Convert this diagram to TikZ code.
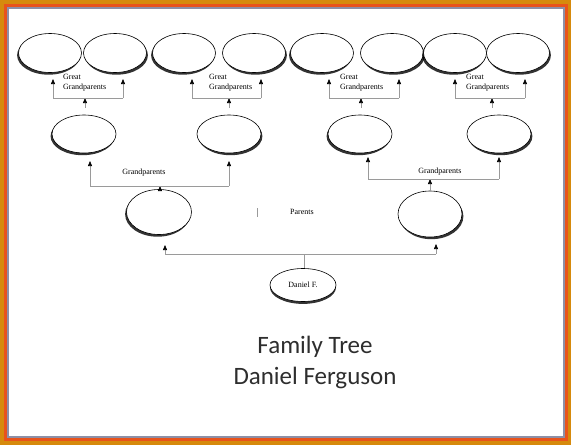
\documentclass[tikz,border=0pt]{standalone}
\usepackage{fontspec}
\setmainfont{Liberation Serif}
\newfontfamily\titlefont{Carlito}
\usepackage{xcolor}
\usetikzlibrary{arrows.meta,shapes.geometric,shadows}
\definecolor{treeGold}{HTML}{D68A0C}
\definecolor{treeRed}{HTML}{E8531C}
\definecolor{treeSlate}{HTML}{8D8FA6}
\definecolor{treeLine}{HTML}{9A9A9A}
\definecolor{treeText}{HTML}{2E2E2E}
\tikzset{
  link/.style={draw=treeLine, line width=0.6pt},
  up link/.style={link, -{Triangle[length=5pt,width=4pt,black]}},
  person/.style={ellipse, draw=black, line width=0.6pt, fill=white,
    minimum width=63pt, minimum height=39pt, inner sep=0pt},
  shade left/.style={drop shadow={shadow xshift=-1.4pt, shadow yshift=-2.2pt,
    fill=black, opacity=0.8}},
  shade right/.style={drop shadow={shadow xshift=1.4pt, shadow yshift=-2.2pt,
    fill=black, opacity=0.8}},
  shade down/.style={drop shadow={shadow xshift=0pt, shadow yshift=-2.4pt,
    fill=black, opacity=0.8}},
  tiny label/.style={font=\fontsize{8}{9.5}\selectfont, inner sep=0pt},
  title text/.style={font=\titlefont\fontsize{25}{29}\selectfont, text=treeText}
}
\begin{document}
\begin{tikzpicture}[x=1pt, y=-1pt]
  % frame
  \fill[treeGold] (0,0) rectangle (571,445);
  \fill[treeRed] (4,4) rectangle (568,441);
  \fill[treeSlate] (7,7) rectangle (565,438);
  \fill[white] (8.5,8.5) rectangle (563,436);

  % great grandparents
  \node[person, shade left] (gg1) at (50,53) {};
  \node[person, shade right] (gg2) at (115,53) {};
  \node[person, shade left] (gg3) at (184,53) {};
  \node[person, shade right] (gg4) at (254,53) {};
  \node[person, shade left] (gg5) at (322,53) {};
  \node[person, shade right] (gg6) at (392,53) {};
  \node[person, shade left] (gg7) at (455,53) {};
  \node[person, shade right] (gg8) at (518,53) {};

  % grandparents
  \node[person, minimum width=64pt, minimum height=38pt, shade left] (gp1) at (84,134) {};
  \node[person, minimum width=64pt, minimum height=38pt, shade right] (gp2) at (229,134) {};
  \node[person, minimum width=64pt, minimum height=38pt, shade left] (gp3) at (360,134) {};
  \node[person, minimum width=64pt, minimum height=38pt, shade right] (gp4) at (499,134) {};

  % parents
  \node[person, minimum width=65pt, minimum height=45pt, shade left] (pa1) at (159,212) {};
  \node[person, minimum width=64pt, minimum height=46pt, shade right] (pa2) at (430,214) {};

  % child
  \node[person, minimum width=66pt, minimum height=33pt, shade down,
    font=\fontsize{8}{9}\selectfont] (me) at (303,285) {Daniel F.\\[2pt]};

  % bars
  \coordinate (bar1) at (85,98);
  \coordinate (bar2) at (229,98);
  \coordinate (bar3) at (361,98);
  \coordinate (bar4) at (492,98);
  \coordinate (barL) at (160,186);
  \coordinate (barR) at (430,179);
  \coordinate (barC) at (304,254);

  % great grandparents links
  \draw[up link] ([yshift=7pt]gp1.north -| bar1) -- (bar1);
  \draw[link] (53,98) -- (123,98);
  \draw[up link] (53,98) -- (53,79);
  \draw[up link] (123,98) -- (123,79);
  \draw[up link] ([yshift=7pt]gp2.north -| bar2) -- (bar2);
  \draw[link] (192,98) -- (261,98);
  \draw[up link] (192,98) -- (192,79);
  \draw[up link] (261,98) -- (261,79);
  \draw[up link] ([yshift=7pt]gp3.north -| bar3) -- (bar3);
  \draw[link] (329,98) -- (399,98);
  \draw[up link] (329,98) -- (329,79);
  \draw[up link] (399,98) -- (399,79);
  \draw[up link] ([yshift=7pt]gp4.north -| bar4) -- (bar4);
  \draw[link] (455,98) -- (525,98);
  \draw[up link] (455,98) -- (455,79);
  \draw[up link] (525,98) -- (525,79);

  % grandparents links
  \draw[up link] (pa1.north -| barL) -- (barL);
  \draw[link] (90,186) -- (229,186);
  \draw[up link] (90,186) -- (90,161);
  \draw[up link] (229,186) -- (229,161);
  \draw[up link] (pa2.north -| barR) -- (barR);
  \draw[link] (368,179) -- (499,179);
  \draw[up link] (368,179) -- (368,157);
  \draw[up link] (499,179) -- (499,157);

  % parents links
  \draw[link] (me.north -| barC) -- (barC);
  \draw[link] (165,254) -- (436,254);
  \draw[up link] (165,254) -- (165,245);
  \draw[up link] (436,254) -- (436,244);

  % labels
  \node[tiny label, anchor=west, align=left] (lab1) at (63,82.5) {Great\\Grandparents};
  \node[tiny label, anchor=west, align=left] (lab2) at (209,82.5) {Great\\Grandparents};
  \node[tiny label, anchor=west, align=left] (lab3) at (340,82.5) {Great\\Grandparents};
  \node[tiny label, anchor=west, align=left] (lab4) at (466,82.5) {Great\\Grandparents};
  \node[tiny label] (labL) at (144,173) {Grandparents};
  \node[tiny label] (labR) at (440,172) {Grandparents};
  \node[tiny label] (labP) at (302,212) {Parents};
  \draw[treeLine, line width=0.8pt] (257,208) -- (257,217);

  % title
  \node[title text] (title) at (315,347) {Family Tree};
  \node[title text] (name) at (315,378) {Daniel Ferguson};
\end{tikzpicture}
\end{document}
